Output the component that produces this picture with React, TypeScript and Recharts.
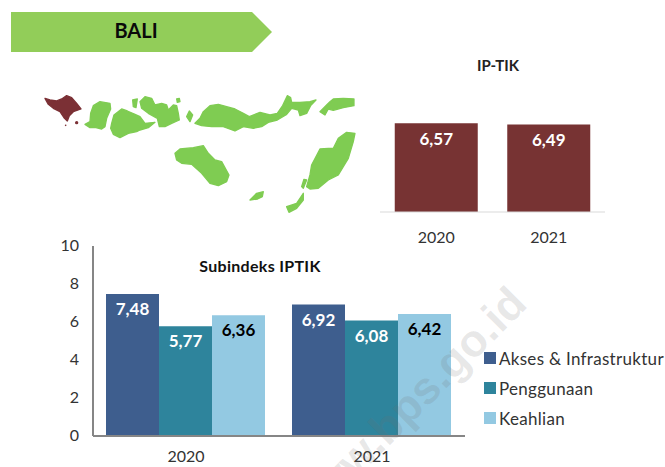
import React from "react";
import { BarChart, Bar, XAxis, YAxis, LabelList, Legend } from "recharts";

const years = ["2020", "2021"];
const ipTik = [6.57, 6.49];
const akses = [7.48, 6.92];
const penggunaan = [5.77, 6.08];
const keahlian = [6.36, 6.42];
const yTicks = [0, 2, 4, 6, 8, 10];

const topData = years.map((y, i) => ({ year: y, ipTik: ipTik[i] }));
const subData = years.map((y, i) => ({
  year: y,
  akses: akses[i],
  penggunaan: penggunaan[i],
  keahlian: keahlian[i],
}));

const FONT = "Lato, 'Open Sans', sans-serif";
const fmt = (v: any) => Number(v).toFixed(2).replace(".", ",");

// Decorative map outlines (not data), in 3x pixels of each local group.
const westIslands = [
  "M135,118 L150,110 L152,85 L160,62 L180,50 L210,55 L212,72 L200,100 L195,125 L185,132 L165,127 L150,128 Z",
  "M215,115 L222,90 L245,72 L262,78 L285,88 L300,95 L315,115 L345,112 L325,128 L300,135 L290,140 L265,145 L240,158 L220,148 L212,130 Z",
  "M300,50 L315,35 L335,40 L345,60 L365,55 L380,60 L385,75 L400,60 L410,62 L415,85 L418,105 L395,115 L375,125 L358,125 L352,100 L325,85 L305,70 Z",
  "M278,45 L292,42 L288,68 L280,65 Z",
  "M410,42 L418,40 L420,50 L412,52 Z",
  "M440,95 L448,78 L458,90 L450,110 Z",
];
const eastIslands = [
  "M15,115 L30,100 L40,80 L60,62 L85,58 L110,65 L135,72 L160,85 L178,95 L210,82 L240,90 L262,85 L278,62 L292,32 L302,38 L305,52 L330,52 L360,50 L378,45 L362,62 L350,85 L330,92 L325,75 L305,70 L290,88 L262,105 L235,112 L215,125 L190,130 L160,125 L135,138 L100,125 L65,125 L35,122 Z",
  "M390,80 L410,60 L420,50 L430,42 L460,40 L492,42 L492,62 L460,68 L430,76 L415,72 L405,90 Z",
];
const southIslands = [
  "M30,85 L45,72 L85,68 L115,62 L130,85 L150,105 L170,110 L192,150 L185,170 L160,182 L135,175 L110,145 L80,118 L50,115 L35,105 Z",
  "M425,185 L435,150 L440,120 L465,72 L490,70 L505,70 L520,40 L545,22 L570,25 L565,50 L550,100 L520,150 L490,165 L460,190 L435,192 Z",
  "M410,185 L417,163 L425,165 L415,190 Z",
  "M255,225 L275,205 L295,200 L292,215 L278,222 Z",
  "M365,245 L395,235 L415,205 L415,225 L395,250 L372,262 Z",
];
const baliIsland =
  "M15,40 L30,45 L50,48 L65,42 L80,32 L95,38 L110,55 L123,72 L100,80 L88,92 L82,108 L72,98 L60,80 L40,70 L25,58 Z";

const GREEN = "#7fcc52";
const MAROON = "#7b3035";

const LegendBox = ({ payload }: any) => (
  <div style={{ fontFamily: FONT, fontSize: 17, color: "#333" }}>
    {(payload || []).map((p: any) => (
      <div key={p.value} style={{ display: "flex", alignItems: "center", height: 30, letterSpacing: 0.3, whiteSpace: "nowrap" }}>
        <span style={{ width: 12, height: 12, flexShrink: 0, background: p.color, display: "inline-block", marginRight: 3 }} />
        {p.value}
      </div>
    ))}
  </div>
);

const Islands = ({ list, dx, dy }: { list: string[]; dx: number; dy: number }) => (
  <g transform={`translate(${dx},${dy})`}>
    {list.map((d, i) => (
      <path key={i} d={d} fill={GREEN} stroke={GREEN} strokeWidth={4} strokeLinejoin="round" />
    ))}
  </g>
);

export default function App() {
  return (
    <div style={{ position: "fixed", left: 0, top: 0, width: 665, height: 467, overflow: "hidden", background: "#fff" }}>
      <div style={{ position: "absolute", left: 0, top: 0 }}>
        <BarChart width={665} height={467} data={subData} barCategoryGap={13} barGap={0} margin={{ top: 246, right: 19, bottom: 0, left: 58 }}>
          <XAxis dataKey="year" height={31} interval={0} tickLine={false} axisLine={{ stroke: "#868686", strokeWidth: 2 }} tick={{ fontFamily: FONT, fontSize: 16, fill: "#333" }} tickMargin={9} />
          <YAxis width={35} domain={[0, 10]} ticks={yTicks} interval={0} tickLine={false} axisLine={{ stroke: "#868686", strokeWidth: 2 }} tick={{ fontFamily: FONT, fontSize: 16, fill: "#333", dy: -1 }} tickMargin={8} />
          <Legend layout="vertical" align="right" verticalAlign="top" itemSorter={null} wrapperStyle={{ left: 484, top: 343, width: 181 }} content={<LegendBox />} />
          <Bar dataKey="akses" name="Akses & Infrastruktur" fill="#3e5e8e" isAnimationActive={false}>
            <LabelList dataKey="akses" position="insideTop" offset={9} formatter={fmt} style={{ fontFamily: FONT, fontSize: 17, fontWeight: 700, fill: "#fff" }} />
          </Bar>
          <Bar dataKey="penggunaan" name="Penggunaan" fill="#2e849c" isAnimationActive={false}>
            <LabelList dataKey="penggunaan" position="insideTop" offset={9} formatter={fmt} style={{ fontFamily: FONT, fontSize: 17, fontWeight: 700, fill: "#fff" }} />
          </Bar>
          <Bar dataKey="keahlian" name="Keahlian" fill="#93c9e2" isAnimationActive={false}>
            <LabelList dataKey="keahlian" position="insideTop" offset={9} formatter={fmt} style={{ fontFamily: FONT, fontSize: 17, fontWeight: 700, fill: "#000" }} />
          </Bar>
        </BarChart>
      </div>

      <div style={{ position: "absolute", left: 0, top: 0 }}>
        <BarChart width={665} height={255} data={topData} barCategoryGap={14.75} margin={{ top: 77, right: 60, bottom: 0, left: 380 }}>
          <XAxis dataKey="year" height={43} interval={0} tickLine={false} axisLine={{ stroke: "#d9d9d9", strokeWidth: 1 }} tick={{ fontFamily: FONT, fontSize: 16, fill: "#333" }} tickMargin={14} />
          <YAxis hide width={0} domain={[0, 10]} />
          <Bar dataKey="ipTik" fill="#773333" isAnimationActive={false}>
            <LabelList dataKey="ipTik" position="insideTop" offset={10} formatter={fmt} style={{ fontFamily: FONT, fontSize: 17, fontWeight: 700, fill: "#fff" }} />
          </Bar>
        </BarChart>
      </div>

      <svg width={665} height={467} style={{ position: "absolute", left: 0, top: 0, pointerEvents: "none" }}>
        <polygon points="11,12 252,12 272,32 252,52 11,52" fill="#92cd59" />
        <text x={136} y={33} textAnchor="middle" dominantBaseline="middle" fontFamily={FONT} fontWeight={700} fontSize={20} fill="#0a0a0a">BALI</text>
        <text x={498} y={67} textAnchor="middle" dominantBaseline="middle" fontFamily={FONT} fontWeight={700} fontSize={15} fill="#222">IP-TIK</text>
        <text x={260} y={268} textAnchor="middle" dominantBaseline="middle" fontFamily={FONT} fontWeight={700} fontSize={16} letterSpacing={0.3} fill="#111">Subindeks IPTIK</text>
        <g transform="scale(0.3333)">
          <Islands list={westIslands} dx={120} dy={255} />
          <Islands list={eastIslands} dx={570} dy={255} />
          <Islands list={southIslands} dx={495} dy={375} />
          <g transform="translate(120,255)">
            <path d={baliIsland} fill={MAROON} stroke={MAROON} strokeWidth={4} strokeLinejoin="round" />
            <circle cx={110} cy={113} r={5} fill={MAROON} />
            <circle cx={77} cy={121} r={2.5} fill={MAROON} />
          </g>
        </g>
        <text x={409} y={409} textAnchor="middle" dominantBaseline="middle" fontFamily="Arial, 'Liberation Sans', sans-serif" fontWeight={700} fontSize={45} fill="rgba(110,110,110,0.16)" transform="rotate(-45 409 409)">
          www.bps.go.id
        </text>
      </svg>
    </div>
  );
}
